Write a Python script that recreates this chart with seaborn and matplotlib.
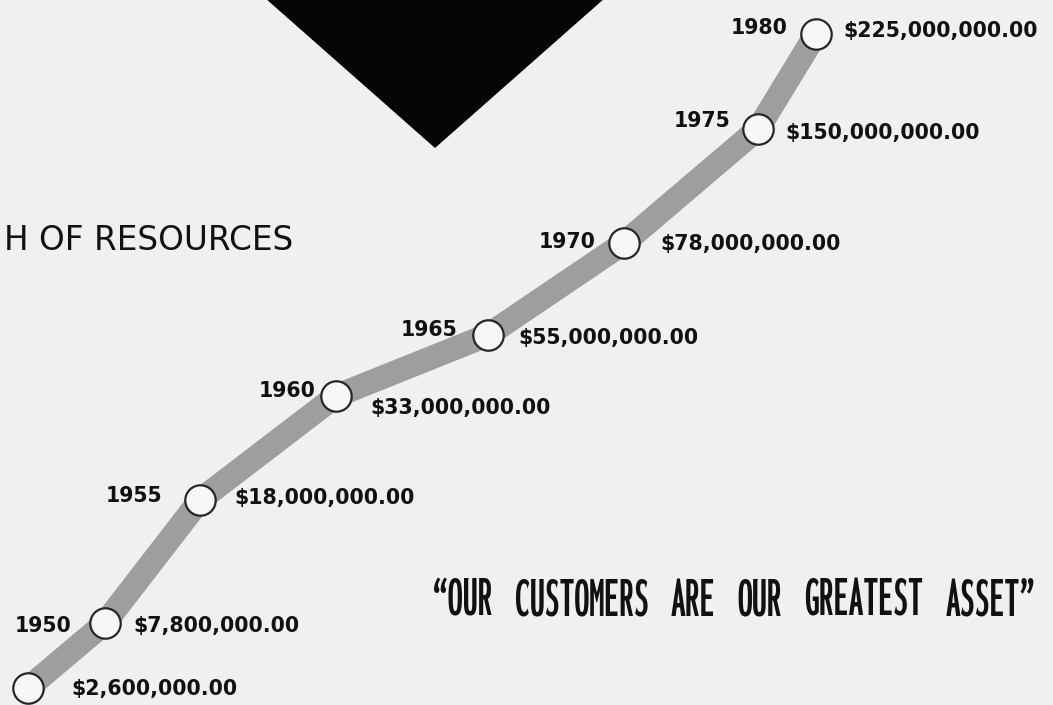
import matplotlib
matplotlib.use("Agg")
import matplotlib.pyplot as plt
from matplotlib import font_manager
from matplotlib.font_manager import FontProperties
from matplotlib.textpath import TextPath
import seaborn as sns
import pandas as pd

# Resources at each five-year mark (the first mark carries no year caption)
years = ["", "1950", "1955", "1960", "1965", "1970", "1975", "1980"]
resources = [2_600_000, 7_800_000, 18_000_000, 33_000_000,
             55_000_000, 78_000_000, 150_000_000, 225_000_000]

# Where the illustrated growth track passes each mark (page units, y grows downward)
track_x = [28, 105, 200, 336, 488, 624, 758, 816]
track_y = [688, 623, 500, 396, 335, 243, 129, 34]

# Caption offsets (page units) for the year (left) and the amount (right)
year_dx = [0, -34, -38, -20, -31, -28, -28, -28]
year_dy = [0, 3, -4, -5, -5, -1, -8, -6]
amt_dx = [43, 28, 34, 34, 30, 36, 27, 27]
amt_dy = [1, 3, -2, 12, 3, 1, 4, -3]

# Slogan, set word by word across the lower right of the page
slogan_words = ["\u201cOUR", "CUSTOMERS", "ARE", "OUR", "GREATEST", "ASSET\u201d"]
SLOGAN_LEFT, SLOGAN_RIGHT, SLOGAN_MID = 433, 1035, 597
SLOGAN_CAP = 37

df = pd.DataFrame({"x": track_x, "y": track_y, "year": years, "value": resources})

PAPER = "#f0f0ee"
INK = "#111111"

sns.set_theme(style="white")
plt.rcParams["font.family"] = ["DejaVu Sans"]

fig = plt.figure(figsize=(10.53, 7.05), dpi=100, facecolor=PAPER)
ax = fig.add_axes([0, 0, 1, 1])
ax.set_facecolor(PAPER)
ax.set_xlim(0, 1053)
ax.set_ylim(705, 0)
ax.axis("off")

# Black diamond emblem at the head of the page
ax.fill([265, 605, 435], [-2, -2, 148], color="#050505", lw=0, zorder=1)

# Growth track
sns.lineplot(data=df, x="x", y="y", sort=False, ax=ax, color="#9e9e9c",
             linewidth=17, solid_capstyle="butt", solid_joinstyle="round",
             zorder=2, legend=False)

# Milestone rings
sns.scatterplot(data=df, x="x", y="y", ax=ax, s=480, color="#f7f7f6",
                edgecolor="#262626", linewidth=1.6, zorder=3, legend=False)

label_font = dict(fontsize=14.8, fontweight="bold", color=INK, va="center")
for i, row in df.iterrows():
    if row["year"]:
        ax.text(row["x"] + year_dx[i], row["y"] + year_dy[i], row["year"],
                ha="right", zorder=4, **label_font)
    ax.text(row["x"] + amt_dx[i], row["y"] + amt_dy[i], f"${row['value']:,.2f}",
            ha="left", zorder=4, **label_font)

# Page heading, running in from the left edge
ax.text(293, 241, "H OF RESOURCES", ha="right", va="center",
        fontsize=23.5, color=INK)


# Slogan in the narrowest bold face available
def pick_condensed():
    best = None
    for f in font_manager.fontManager.ttflist:
        path = f.fname.lower().replace("-", "").replace("_", "")
        name = f.name.lower()
        stretch = str(f.stretch)
        if "ultracondensed" in path:
            level = 0
        elif "extracondensed" in path or stretch == "extra-condensed":
            level = 1
        elif "semicondensed" in path or stretch == "semi-condensed":
            level = 3
        elif ("condensed" in path or "narrow" in name or "condensed" in name
              or stretch in ("condensed", "ultra-condensed")):
            level = 2
        else:
            continue
        w = f.weight if isinstance(f.weight, int) else {"bold": 700, "heavy": 800, "black": 900}.get(str(f.weight), 400)
        if w < 600 or "italic" in path or "oblique" in path:
            continue
        key = (level, abs(w - 700))
        if best is None or key < best[0]:
            best = (key, f.fname)
    return best[1] if best else None


cond_file = pick_condensed()
if cond_file:
    slogan_font = FontProperties(fname=cond_file)
else:
    slogan_font = FontProperties(family="DejaVu Sans", weight="bold")

# Size the face by the height of its capitals
slogan_font.set_size(1)
cap_ratio = TextPath((0, 0), "H", prop=slogan_font).get_extents().height
slogan_font.set_size(SLOGAN_CAP * 72 / 100 / cap_ratio)

baseline = SLOGAN_MID + SLOGAN_CAP / 2
words = [ax.text(0, baseline, w, ha="left", va="baseline",
                 fontproperties=slogan_font, color=INK) for w in slogan_words]
fig.canvas.draw()
widths = [t.get_window_extent().width for t in words]
gap = max(8, (SLOGAN_RIGHT - SLOGAN_LEFT - sum(widths)) / (len(words) - 1))
x = SLOGAN_LEFT
for t, w in zip(words, widths):
    t.set_x(x)
    x += w + gap

fig.savefig("out.png", dpi=100, facecolor=PAPER)
